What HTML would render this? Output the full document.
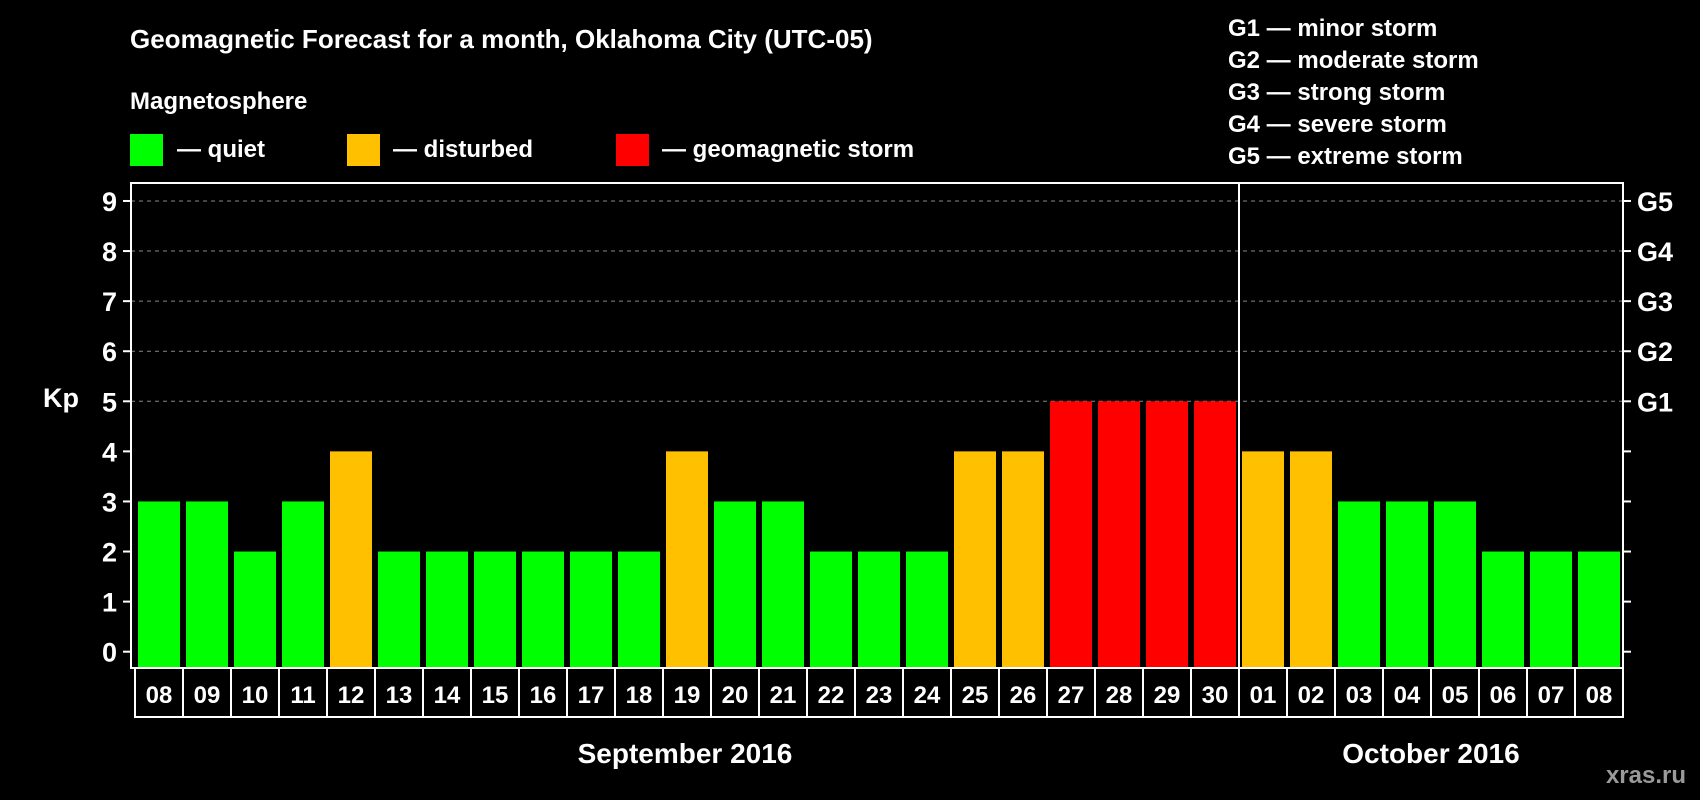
<!DOCTYPE html>
<html><head><meta charset="utf-8"><style>
html,body{margin:0;padding:0;background:#000;}
svg{display:block;font-family:"Liberation Sans",Arial,sans-serif;font-weight:bold;}
</style></head><body>
<svg id="chart" width="1700" height="800" viewBox="0 0 1700 800" xmlns="http://www.w3.org/2000/svg">
<rect width="1700" height="800" fill="#000"/>
<text x="130" y="48" fill="#fff" font-size="26">Geomagnetic Forecast for a month, Oklahoma City (UTC-05)</text>
<text x="130" y="109" fill="#fff" font-size="24">Magnetosphere</text>
<rect x="130" y="134" width="33" height="32" fill="#00ff00"/>
<text x="177" y="157" fill="#fff" font-size="24">— quiet</text>
<rect x="347" y="134" width="33" height="32" fill="#ffc000"/>
<text x="393" y="157" fill="#fff" font-size="24">— disturbed</text>
<rect x="616" y="134" width="33" height="32" fill="#ff0000"/>
<text x="662" y="157" fill="#fff" font-size="24">— geomagnetic storm</text>
<g fill="#fff" font-size="24">
<text x="1228" y="36">G1 — minor storm</text>
<text x="1228" y="68">G2 — moderate storm</text>
<text x="1228" y="100">G3 — strong storm</text>
<text x="1228" y="132">G4 — severe storm</text>
<text x="1228" y="164">G5 — extreme storm</text>
</g>
<text x="43" y="407" fill="#fff" font-size="27">Kp</text>
<g id="grid"></g>
<g id="bars"></g>
<g id="axes"></g>
<g id="dates"></g>
<text x="685" y="763" fill="#fff" font-size="28" text-anchor="middle">September 2016</text>
<text x="1431" y="763" fill="#fff" font-size="28" text-anchor="middle">October 2016</text>
<text x="1686" y="783" fill="#9a9a9a" font-size="24" text-anchor="end">xras.ru</text>
</svg>
<script>
const days = ["08","09","10","11","12","13","14","15","16","17","18","19","20","21","22","23","24","25","26","27","28","29","30","01","02","03","04","05","06","07","08"];
const kpValues = [3,3,2,3,4,2,2,2,2,2,2,4,3,3,2,2,2,4,4,5,5,5,5,4,4,3,3,3,2,2,2];
const yTicks = [0,1,2,3,4,5,6,7,8,9];
const gLabels = ["G1","G2","G3","G4","G5"];
const gLevels = [5,6,7,8,9];

const NS="http://www.w3.org/2000/svg";
const X0=135, SLOT=48, LEFT=131, RIGHT=1623, TOP=183, BOTTOM=668;
const yScale=v=>651.7-v*50.08;
const xScale=i=>X0+i*SLOT;
function mk(t,a){const e=document.createElementNS(NS,t);for(const k in a)e.setAttribute(k,a[k]);return e;}
const grid=document.getElementById('grid'),bars=document.getElementById('bars'),axes=document.getElementById('axes'),dates=document.getElementById('dates');

yTicks.forEach(v=>{
  if(v>=5){
    const l=mk('line',{x1:LEFT,x2:RIGHT,y1:yScale(v),y2:yScale(v),stroke:'#888','stroke-width':1,'stroke-dasharray':'4,4'});
    
    
    grid.appendChild(l);
  }
  const t=mk('line',{x1:LEFT-8,x2:LEFT,y1:yScale(v),y2:yScale(v),stroke:'#fff','stroke-width':2});
  
  
  axes.appendChild(t);
  const t2=mk('line',{x1:RIGHT,x2:RIGHT+8,y1:yScale(v),y2:yScale(v),stroke:'#fff','stroke-width':2});
  
  
  axes.appendChild(t2);
  const tx=mk('text',{x:117,y:yScale(v)+10,fill:'#fff','font-size':27,'text-anchor':'end'});
  tx.textContent=v;
  
  
  axes.appendChild(tx);
});
gLabels.forEach((g,i)=>{
  const tx=mk('text',{x:1637,y:yScale(gLevels[i])+10,fill:'#fff','font-size':27});
  tx.textContent=g;
  
  
  axes.appendChild(tx);
});
kpValues.forEach((v,i)=>{
  const c=v>=5?'#ff0000':(v>=4?'#ffc000':'#00ff00');
  const r=mk('rect',{x:xScale(i)+3,y:yScale(v),width:42,height:BOTTOM-yScale(v),fill:c});
  
  
  bars.appendChild(r);
});
const frame=mk('rect',{x:LEFT,y:TOP,width:RIGHT-LEFT,height:BOTTOM-TOP,fill:'none',stroke:'#fff','stroke-width':2});


axes.appendChild(frame);
const div=mk('line',{x1:xScale(23),x2:xScale(23),y1:TOP,y2:BOTTOM,stroke:'#fff','stroke-width':2});


axes.appendChild(div);
days.forEach((d,i)=>{
  const b=mk('rect',{x:xScale(i),y:BOTTOM,width:SLOT,height:49,fill:'none',stroke:'#fff','stroke-width':2});
  
  
  dates.appendChild(b);
  const t=mk('text',{x:xScale(i)+SLOT/2,y:BOTTOM+35,fill:'#fff','font-size':24,'text-anchor':'middle'});
  t.textContent=d;
  
  
  dates.appendChild(t);
});
</script>
</body></html>
